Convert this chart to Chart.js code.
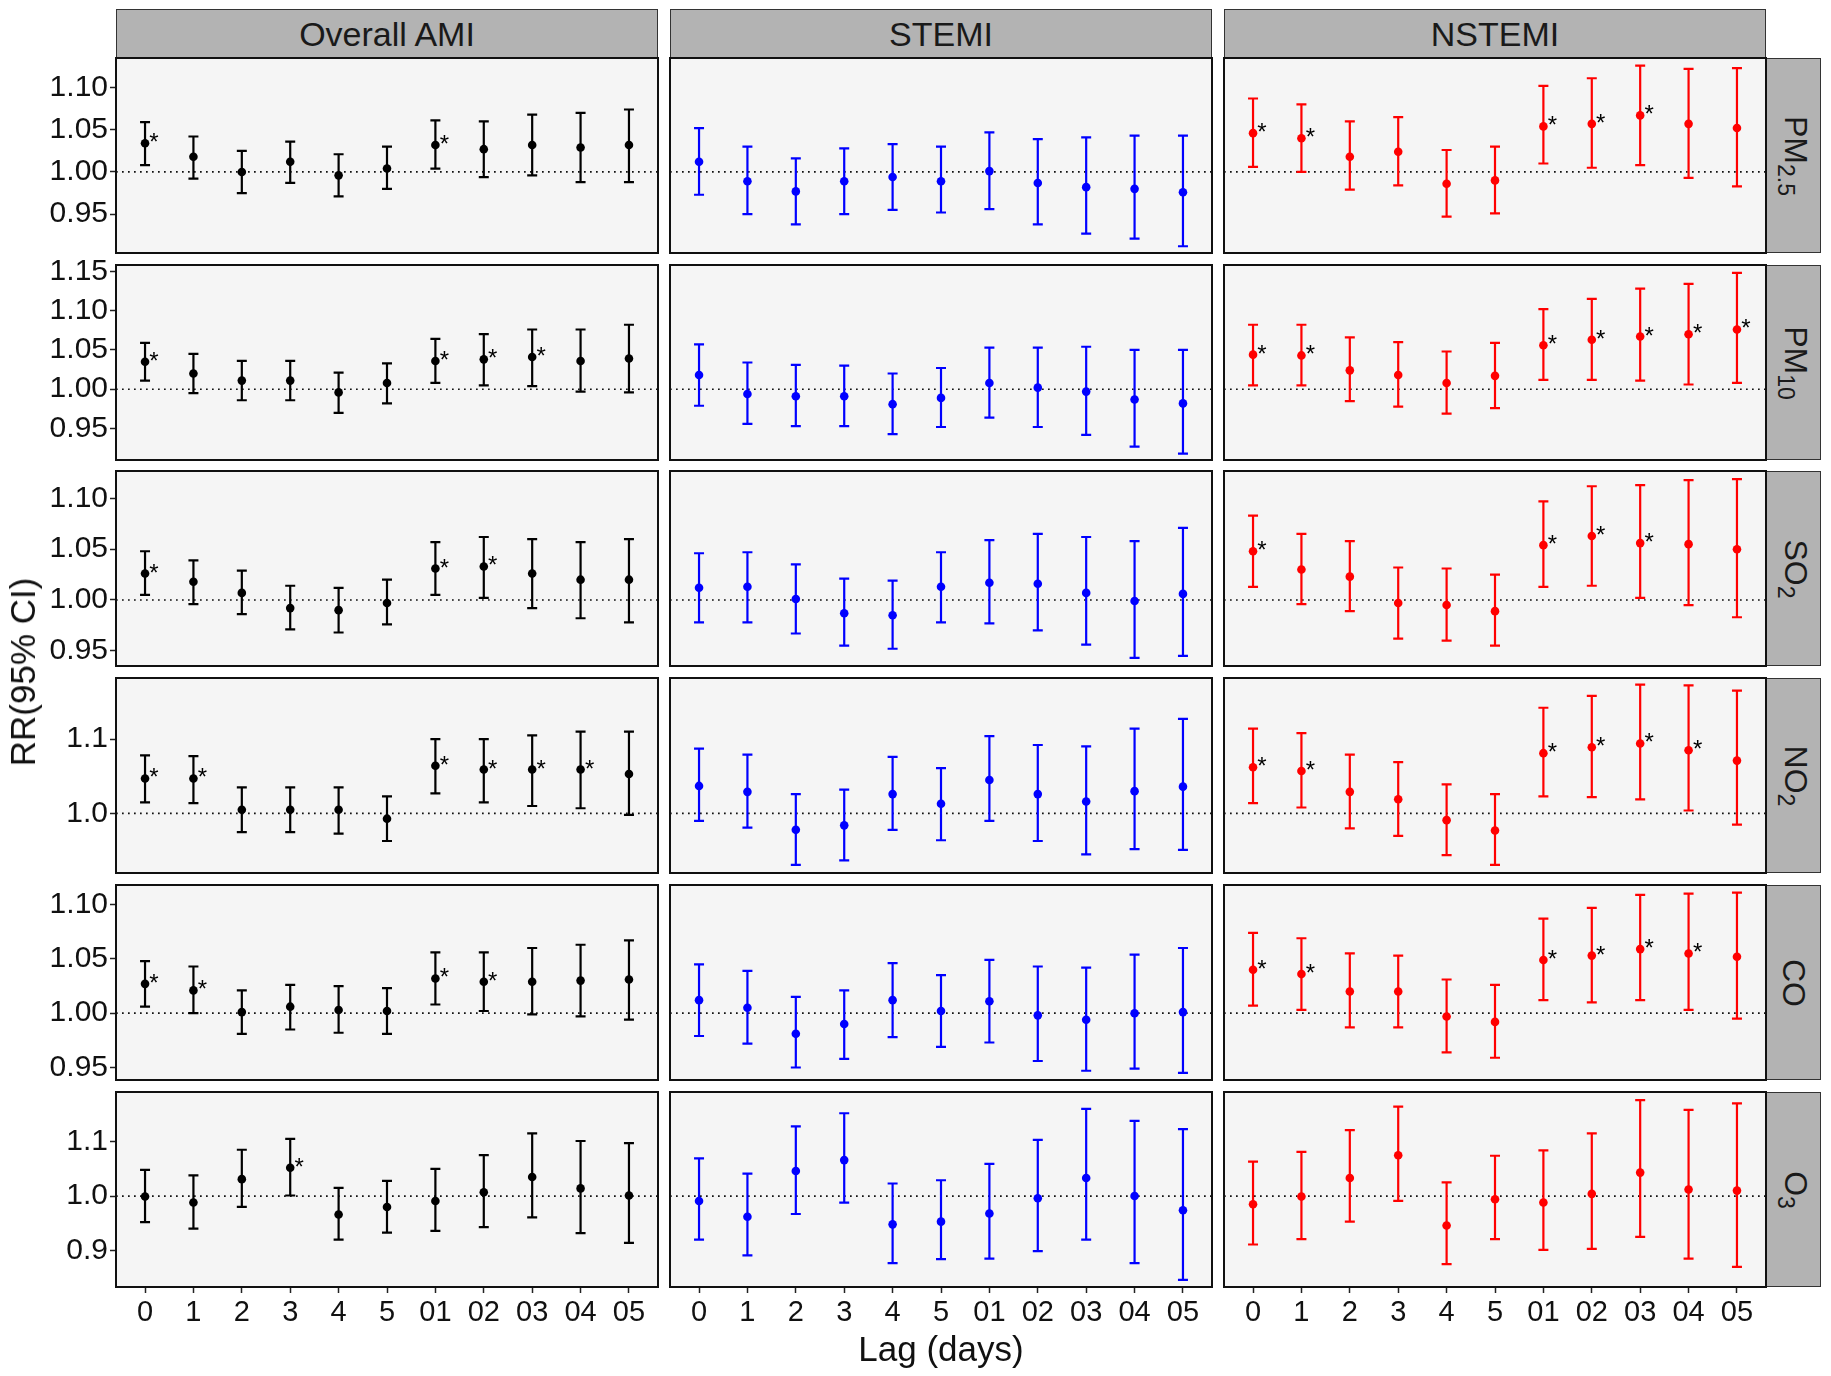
<!DOCTYPE html>
<html>
<head>
<meta charset="utf-8">
<script src="https://cdn.jsdelivr.net/npm/chart.js@4.4.1/dist/chart.umd.min.js"></script>
<style>
  body {margin: 0; background: #fff;}
  #page {position: relative; width: 1831px; height: 1376px; font-family: "Liberation Sans", Arial, sans-serif; color: #111;}
  .box {position: absolute;}
  .head {position: absolute; background: #b3b3b3; border: 1.5px solid #333; box-sizing: border-box; font-size: 34px; color: #1a1a1a; display: flex; align-items: center; justify-content: center;}
  .side {position: absolute; background: #b3b3b3; border: 1.5px solid #333; box-sizing: border-box; color: #1a1a1a;}
  .side span {position: absolute; left: 50%; top: 50%; transform: translate(-50%,-50%) rotate(90deg); font-size: 32px; white-space: nowrap;}
  .side sub {font-size: 23px; vertical-align: -7px;}
  .title {position: absolute; font-size: 35px; white-space: nowrap; transform: translate(-50%,-50%);}
</style>
</head>
<body>
<div id="page"></div>
<script>
/* Lag labels on the x axis */
const lags = ['0','1','2','3','4','5','01','02','03','04','05'];
const groups = ['Overall AMI', 'STEMI', 'NSTEMI'];
const groupColors = ['#000000', '#0000ff', '#ff0000'];
const pollutants = ['PM<sub>2.5</sub>', 'PM<sub>10</sub>', 'SO<sub>2</sub>', 'NO<sub>2</sub>', 'CO', 'O<sub>3</sub>'];

/* Y axis per pollutant row */
const yMin = [0.904, 0.910, 0.935, 0.920, 0.9385, 0.833];
const yMax = [1.135, 1.158, 1.127, 1.182, 1.118, 1.191];
const yTicks = [
  [0.95, 1.00, 1.05, 1.10],
  [0.95, 1.00, 1.05, 1.10, 1.15],
  [0.95, 1.00, 1.05, 1.10],
  [1.0, 1.1],
  [0.95, 1.00, 1.05, 1.10],
  [0.9, 1.0, 1.1]
];
const yDecimals = [2, 2, 2, 1, 2, 1];

/* PM2.5 */
const pm25AmiRR = [1.034,1.018,1.000,1.012,0.996,1.004,1.032,1.027,1.032,1.029,1.032];
const pm25AmiLo = [1.008,0.992,0.975,0.987,0.971,0.980,1.004,0.994,0.996,0.988,0.988];
const pm25AmiHi = [1.059,1.042,1.025,1.036,1.021,1.030,1.061,1.060,1.068,1.070,1.074];
const pm25AmiSig = [0,6];
const pm25StemiRR = [1.012,0.989,0.977,0.989,0.994,0.989,1.001,0.987,0.982,0.980,0.976];
const pm25StemiLo = [0.973,0.950,0.938,0.950,0.955,0.952,0.956,0.938,0.927,0.921,0.912];
const pm25StemiHi = [1.052,1.030,1.016,1.028,1.033,1.030,1.047,1.039,1.041,1.043,1.043];
const pm25StemiSig = [];
const pm25NstemiRR = [1.046,1.040,1.018,1.024,0.986,0.990,1.054,1.057,1.067,1.057,1.052];
const pm25NstemiLo = [1.006,1.000,0.979,0.984,0.947,0.951,1.010,1.005,1.008,0.993,0.983];
const pm25NstemiHi = [1.087,1.080,1.060,1.065,1.026,1.030,1.102,1.111,1.126,1.122,1.123];
const pm25NstemiSig = [0,1,6,7,8];

/* PM10 */
const pm10AmiRR = [1.035,1.020,1.011,1.011,0.996,1.008,1.036,1.038,1.041,1.036,1.039];
const pm10AmiLo = [1.011,0.995,0.986,0.986,0.970,0.982,1.008,1.005,1.004,0.997,0.996];
const pm10AmiHi = [1.059,1.045,1.036,1.036,1.021,1.033,1.064,1.070,1.076,1.076,1.082];
const pm10AmiSig = [0,6,7,8];
const pm10StemiRR = [1.018,0.994,0.991,0.991,0.981,0.989,1.008,1.002,0.997,0.987,0.982];
const pm10StemiLo = [0.979,0.956,0.953,0.953,0.943,0.952,0.964,0.952,0.942,0.927,0.918];
const pm10StemiHi = [1.057,1.034,1.031,1.030,1.020,1.027,1.053,1.053,1.054,1.050,1.050];
const pm10StemiSig = [];
const pm10NstemiRR = [1.044,1.043,1.024,1.018,1.008,1.017,1.056,1.063,1.067,1.070,1.076];
const pm10NstemiLo = [1.005,1.005,0.985,0.978,0.969,0.976,1.012,1.012,1.011,1.006,1.008];
const pm10NstemiHi = [1.082,1.082,1.066,1.060,1.048,1.059,1.102,1.115,1.128,1.134,1.148];
const pm10NstemiSig = [0,1,6,7,8,9,10];

/* SO2 */
const so2AmiRR = [1.026,1.018,1.007,0.992,0.990,0.997,1.031,1.033,1.026,1.020,1.020];
const so2AmiLo = [1.005,0.996,0.986,0.971,0.968,0.976,1.005,1.002,0.992,0.982,0.978];
const so2AmiHi = [1.048,1.039,1.029,1.014,1.012,1.020,1.057,1.062,1.060,1.057,1.060];
const so2AmiSig = [0,6,7];
const so2StemiRR = [1.012,1.013,1.001,0.987,0.985,1.013,1.017,1.016,1.007,0.999,1.006];
const so2StemiLo = [0.978,0.978,0.967,0.955,0.952,0.978,0.977,0.970,0.956,0.943,0.945];
const so2StemiHi = [1.046,1.047,1.035,1.021,1.019,1.047,1.059,1.065,1.062,1.058,1.071];
const so2StemiSig = [];
const so2NstemiRR = [1.048,1.030,1.023,0.997,0.995,0.989,1.054,1.063,1.056,1.055,1.050];
const so2NstemiLo = [1.013,0.996,0.989,0.962,0.960,0.955,1.013,1.014,1.002,0.995,0.983];
const so2NstemiHi = [1.083,1.065,1.058,1.032,1.031,1.025,1.097,1.112,1.113,1.118,1.119];
const so2NstemiSig = [0,6,7,8];

/* NO2 */
const no2AmiRR = [1.047,1.047,1.005,1.005,1.005,0.993,1.064,1.059,1.059,1.059,1.053];
const no2AmiLo = [1.015,1.014,0.975,0.975,0.973,0.963,1.027,1.015,1.010,1.007,0.998];
const no2AmiHi = [1.078,1.077,1.035,1.035,1.035,1.023,1.100,1.100,1.105,1.110,1.110];
const no2AmiSig = [0,1,6,7,8,9];
const no2StemiRR = [1.037,1.029,0.978,0.984,1.026,1.013,1.045,1.026,1.016,1.030,1.036];
const no2StemiLo = [0.990,0.981,0.931,0.937,0.978,0.964,0.990,0.963,0.945,0.952,0.951];
const no2StemiHi = [1.087,1.079,1.026,1.032,1.076,1.061,1.104,1.092,1.090,1.114,1.127];
const no2StemiSig = [];
const no2NstemiRR = [1.062,1.057,1.029,1.019,0.991,0.977,1.081,1.089,1.094,1.085,1.071];
const no2NstemiLo = [1.014,1.008,0.980,0.970,0.944,0.931,1.023,1.022,1.019,1.004,0.985];
const no2NstemiHi = [1.114,1.108,1.079,1.069,1.039,1.026,1.142,1.158,1.173,1.172,1.165];
const no2NstemiSig = [0,1,6,7,8,9];

/* CO */
const coAmiRR = [1.027,1.021,1.001,1.006,1.003,1.002,1.032,1.029,1.029,1.030,1.031];
const coAmiLo = [1.006,1.000,0.981,0.985,0.982,0.981,1.008,1.002,0.999,0.997,0.994];
const coAmiHi = [1.048,1.043,1.021,1.026,1.025,1.023,1.056,1.056,1.060,1.063,1.067];
const coAmiSig = [0,1,6,7];
const coStemiRR = [1.012,1.005,0.981,0.990,1.012,1.002,1.011,0.998,0.994,1.000,1.001];
const coStemiLo = [0.979,0.972,0.950,0.958,0.978,0.969,0.973,0.956,0.947,0.949,0.945];
const coStemiHi = [1.045,1.039,1.015,1.021,1.046,1.035,1.049,1.043,1.042,1.054,1.060];
const coStemiSig = [];
const coNstemiRR = [1.040,1.036,1.020,1.020,0.997,0.992,1.049,1.053,1.059,1.055,1.052];
const coNstemiLo = [1.007,1.003,0.987,0.987,0.964,0.959,1.012,1.010,1.012,1.003,0.995];
const coNstemiHi = [1.074,1.069,1.055,1.053,1.031,1.026,1.087,1.097,1.109,1.110,1.111];
const coNstemiSig = [0,1,6,7,8,9];

/* O3 */
const o3AmiRR = [0.999,0.988,1.031,1.052,0.966,0.980,0.991,1.007,1.035,1.014,1.001];
const o3AmiLo = [0.952,0.940,0.980,1.001,0.920,0.933,0.936,0.943,0.961,0.932,0.914];
const o3AmiHi = [1.048,1.038,1.085,1.105,1.015,1.028,1.050,1.075,1.115,1.101,1.097];
const o3AmiSig = [3];
const o3StemiRR = [0.991,0.962,1.046,1.066,0.948,0.953,0.968,0.996,1.033,1.000,0.974];
const o3StemiLo = [0.920,0.891,0.967,0.988,0.877,0.884,0.885,0.899,0.920,0.877,0.846];
const o3StemiHi = [1.069,1.041,1.128,1.152,1.023,1.029,1.059,1.103,1.160,1.138,1.123];
const o3StemiSig = [];
const o3NstemiRR = [0.985,0.999,1.033,1.075,0.946,0.994,0.988,1.004,1.043,1.012,1.010];
const o3NstemiLo = [0.911,0.921,0.953,0.991,0.875,0.921,0.901,0.903,0.925,0.885,0.870];
const o3NstemiHi = [1.063,1.081,1.121,1.164,1.025,1.074,1.084,1.115,1.176,1.158,1.170];
const o3NstemiSig = [];

/* Panel table: rows = pollutants, columns = groups */
const panels = [
  [[pm25AmiRR,pm25AmiLo,pm25AmiHi,pm25AmiSig],[pm25StemiRR,pm25StemiLo,pm25StemiHi,pm25StemiSig],[pm25NstemiRR,pm25NstemiLo,pm25NstemiHi,pm25NstemiSig]],
  [[pm10AmiRR,pm10AmiLo,pm10AmiHi,pm10AmiSig],[pm10StemiRR,pm10StemiLo,pm10StemiHi,pm10StemiSig],[pm10NstemiRR,pm10NstemiLo,pm10NstemiHi,pm10NstemiSig]],
  [[so2AmiRR,so2AmiLo,so2AmiHi,so2AmiSig],[so2StemiRR,so2StemiLo,so2StemiHi,so2StemiSig],[so2NstemiRR,so2NstemiLo,so2NstemiHi,so2NstemiSig]],
  [[no2AmiRR,no2AmiLo,no2AmiHi,no2AmiSig],[no2StemiRR,no2StemiLo,no2StemiHi,no2StemiSig],[no2NstemiRR,no2NstemiLo,no2NstemiHi,no2NstemiSig]],
  [[coAmiRR,coAmiLo,coAmiHi,coAmiSig],[coStemiRR,coStemiLo,coStemiHi,coStemiSig],[coNstemiRR,coNstemiLo,coNstemiHi,coNstemiSig]],
  [[o3AmiRR,o3AmiLo,o3AmiHi,o3AmiSig],[o3StemiRR,o3StemiLo,o3StemiHi,o3StemiSig],[o3NstemiRR,o3NstemiLo,o3NstemiHi,o3NstemiSig]]
];

/* Layout */
const colLeft = [116, 670, 1224];
const panelW = 542;
const panelH = 195;
const rowTop = [58, 265, 471, 678, 885, 1092];
const PAD = 3;
const PADV = 14;
const XH = 52;
const FONT = '"Liberation Sans", Arial, sans-serif';

Chart.defaults.font.family = FONT;
Chart.defaults.color = '#111';

const page = document.getElementById('page');

function addDiv(cls, style, html) {
  const d = document.createElement('div');
  d.className = cls;
  Object.assign(d.style, style);
  d.innerHTML = html;
  page.appendChild(d);
  return d;
}

/**
 * Panel plugin: background, reference line, error bars, asterisks and border.
 */
function panelPlugin(lo, hi, sig, rr, color) {
  return {
    id: 'panel',
    beforeDraw(chart) {
      const {ctx, chartArea: a} = chart;
      ctx.save();
      ctx.fillStyle = '#f5f5f5';
      ctx.fillRect(a.left, a.top, a.right - a.left, a.bottom - a.top);
      ctx.restore();
    },
    beforeDatasetsDraw(chart) {
      const {ctx, chartArea: a, scales: {x, y}} = chart;
      ctx.save();
      /* dotted line at RR = 1 */
      const y1 = y.getPixelForValue(1);
      ctx.strokeStyle = '#111';
      ctx.lineWidth = 1.7;
      ctx.setLineDash([1.7, 4.3]);
      ctx.beginPath();
      ctx.moveTo(a.left, y1);
      ctx.lineTo(a.right, y1);
      ctx.stroke();
      ctx.setLineDash([]);
      /* error bars */
      ctx.strokeStyle = color;
      ctx.lineWidth = 2.2;
      for (let i=0;i<lo.length;i++) {
        const px = x.getPixelForValue(i);
        const pl = y.getPixelForValue(lo[i]);
        const ph = y.getPixelForValue(hi[i]);
        ctx.beginPath();
        ctx.moveTo(px, pl); ctx.lineTo(px, ph);
        ctx.moveTo(px-5, pl); ctx.lineTo(px+5, pl);
        ctx.moveTo(px-5, ph); ctx.lineTo(px+5, ph);
        ctx.stroke();
      }
      ctx.restore();
    },
    afterDatasetsDraw(chart) {
      const {ctx, scales: {x, y}} = chart;
      ctx.save();
      ctx.fillStyle = '#000';
      ctx.font = '24px ' + FONT;
      ctx.textAlign = 'center';
      ctx.textBaseline = 'alphabetic';
      sig.forEach(i => {
        ctx.fillText('*', x.getPixelForValue(i) + 9, y.getPixelForValue(rr[i]) + 7);
      });
      ctx.restore();
    },
    afterDraw(chart) {
      const {ctx, chartArea: a} = chart;
      ctx.save();
      ctx.strokeStyle = '#111';
      ctx.lineWidth = 2;
      ctx.strokeRect(a.left, a.top, a.right - a.left, a.bottom - a.top);
      ctx.restore();
    }
  };
}

/* Column headers */
groups.forEach((g, c) => {
  addDiv('head', {left: colLeft[c]+'px', top: '9px', width: panelW+'px', height: '50px'}, g);
});

/* Panels */
for (let r=0;r<6;r++) {
  addDiv('side', {left: '1765px', top: rowTop[r]+'px', width: '56px', height: panelH+'px'}, '<span>'+pollutants[r]+'</span>');
  for (let c=0;c<3;c++) {
    const [rr, lo, hi, sig] = panels[r][c];
    const plotL = colLeft[c], plotT = rowTop[r];
    const cl = (c==0) ? 0 : plotL - PAD;
    const ct = plotT - PADV;
    const cw = (plotL - cl) + panelW + PAD;
    const ch = PADV + panelH + ((r==5) ? XH : PADV);
    const box = addDiv('box', {left: cl+'px', top: ct+'px', width: cw+'px', height: ch+'px'}, '');
    const canvas = document.createElement('canvas');
    box.appendChild(canvas);

    const xShown = (r==5);
    const yShown = (c==0);

    new Chart(canvas, {
      type: 'scatter',
      data: {
        datasets: [{
          data: rr.map((v, i) => ({x: i, y: v})),
          pointRadius: 4.3,
          pointBackgroundColor: groupColors[c],
          pointBorderWidth: 0,
          pointHoverRadius: 4.3
        }]
      },
      options: {
        responsive: true,
        maintainAspectRatio: false,
        animation: false,
        events: [],
        layout: {autoPadding: false, padding: {left: PAD, right: PAD, top: PADV, bottom: PADV}},
        plugins: {legend: {display: false}, tooltip: {enabled: false}},
        scales: {
          x: {
            type: 'linear',
            min: -0.6, max: 10.6,
            display: xShown,
            afterBuildTicks: s => { s.ticks = lags.map((_, i) => ({value: i})); },
            afterFit: s => { if (xShown) { s.height = XH - PADV; s.paddingLeft = 0; s.paddingRight = 0; } },
            ticks: {callback: v => lags[v], font: {size: 29}, color: '#111', padding: 3, maxRotation: 0, autoSkip: false},
            grid: {drawOnChartArea: false, drawTicks: true, tickLength: 6, tickColor: '#222', tickWidth: 1.5},
            border: {display: false}
          },
          y: {
            type: 'linear',
            min: yMin[r], max: yMax[r],
            display: yShown,
            afterBuildTicks: s => { s.ticks = yTicks[r].map(v => ({value: v})); },
            afterFit: s => { if (yShown) { s.width = plotL - PAD; s.paddingTop = 0; s.paddingBottom = 0; } },
            ticks: {callback: v => v.toFixed(yDecimals[r]), font: {size: 30}, color: '#111', padding: 2, autoSkip: false},
            grid: {drawOnChartArea: false, drawTicks: true, tickLength: 6, tickColor: '#222', tickWidth: 1.5},
            border: {display: false}
          }
        }
      },
      plugins: [panelPlugin(lo, hi, sig, rr, groupColors[c])]
    });
  }
}

/* Axis titles */
addDiv('title', {left: '941px', top: '1349px'}, 'Lag (days)');
addDiv('title', {left: '23px', top: '672px', transform: 'translate(-50%,-50%) rotate(-90deg)'}, 'RR(95% CI)');
</script>
</body>
</html>
